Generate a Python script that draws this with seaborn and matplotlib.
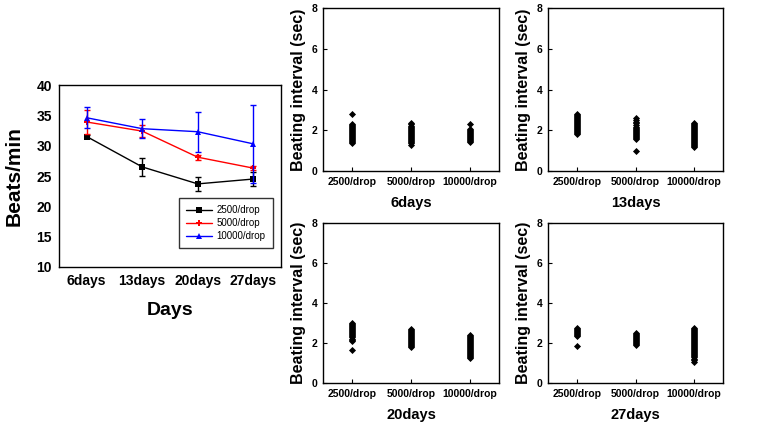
import numpy as np
import pandas as pd
import matplotlib
matplotlib.use("Agg")
import matplotlib.pyplot as plt
import seaborn as sns

# ---- left panel: beats per minute over time ----
days = ["6days", "13days", "20days", "27days"]
groups = ["2500/drop", "5000/drop", "10000/drop"]
colors = ["black", "red", "blue"]
marks = ["s", "P", "^"]

bpm_2500 = [31.5, 26.5, 23.7, 24.5]
err_2500 = [0.2, 1.5, 1.1, 1.1]
bpm_5000 = [33.9, 32.4, 28.1, 26.3]
err_5000 = [1.9, 1.0, 0.4, 0.3]
bpm_10000 = [34.6, 32.8, 32.3, 30.3]
err_10000 = [1.7, 1.6, 3.3, 6.4]

# ---- right panels: beating interval (sec) per density ----
density = ["2500/drop", "5000/drop", "10000/drop"]

d6_2500 = [2.78, 2.30, 2.25, 2.20, 2.15, 2.10, 2.05, 2.00, 1.95, 1.90, 1.85,
           1.80, 1.75, 1.70, 1.65, 1.60, 1.55, 1.50, 1.45, 1.40, 1.37]
d6_5000 = [2.37, 2.30, 2.23, 2.16, 2.10, 2.05, 2.00, 1.95, 1.90, 1.85, 1.80,
           1.75, 1.70, 1.65, 1.60, 1.55, 1.50, 1.45, 1.40, 1.35, 1.30]
d6_10000 = [2.30, 2.08, 2.03, 1.98, 1.93, 1.88, 1.83, 1.78, 1.73, 1.68,
            1.63, 1.58, 1.53, 1.48, 1.42]

d13_2500 = [2.80, 2.75, 2.70, 2.65, 2.60, 2.55, 2.50, 2.45, 2.40, 2.35, 2.30,
            2.25, 2.20, 2.15, 2.10, 2.05, 2.00, 1.95, 1.90, 1.85, 1.80]
d13_5000 = [2.58, 2.50, 2.42, 2.34, 2.26, 2.18, 2.10, 2.05, 2.00, 1.95, 1.90,
            1.85, 1.80, 1.75, 1.70, 1.65, 1.60, 1.55, 1.00]
d13_10000 = [2.37, 2.32, 2.27, 2.22, 2.17, 2.12, 2.07, 2.02, 1.97, 1.92,
             1.87, 1.82, 1.77, 1.72, 1.67, 1.62, 1.57, 1.52, 1.47, 1.42,
             1.37, 1.32, 1.27, 1.22, 1.17]

d20_2500 = [2.98, 2.93, 2.88, 2.83, 2.78, 2.73, 2.68, 2.63, 2.58, 2.53, 2.48,
            2.43, 2.38, 2.33, 2.28, 2.22, 2.15, 2.08, 1.63]
d20_5000 = [2.71, 2.66, 2.61, 2.56, 2.51, 2.46, 2.41, 2.36, 2.31, 2.26, 2.21,
            2.16, 2.11, 2.06, 2.01, 1.96, 1.91, 1.86, 1.80]
d20_10000 = [2.41, 2.36, 2.31, 2.26, 2.21, 2.16, 2.11, 2.06, 2.01, 1.96,
             1.91, 1.86, 1.81, 1.76, 1.71, 1.66, 1.61, 1.56, 1.51, 1.46,
             1.41, 1.36, 1.31, 1.24]

d27_2500 = [2.77, 2.70, 2.63, 2.58, 2.53, 2.48, 2.43, 2.38, 2.33, 1.85]
d27_5000 = [2.52, 2.47, 2.42, 2.37, 2.32, 2.27, 2.22, 2.17, 2.12, 2.07,
            2.02, 1.96, 1.90]
d27_10000 = [2.77, 2.72, 2.67, 2.62, 2.57, 2.52, 2.47, 2.42, 2.37, 2.32,
             2.27, 2.22, 2.17, 2.12, 2.07, 2.02, 1.97, 1.92, 1.87, 1.82,
             1.77, 1.72, 1.67, 1.62, 1.57, 1.52, 1.47, 1.42, 1.37, 1.30,
             1.22, 1.15, 1.04]

panels = [("6days", [d6_2500, d6_5000, d6_10000]),
          ("13days", [d13_2500, d13_5000, d13_10000]),
          ("20days", [d20_2500, d20_5000, d20_10000]),
          ("27days", [d27_2500, d27_5000, d27_10000])]

sns.set_style("ticks")
plt.rcParams["font.family"] = ["Liberation Sans", "DejaVu Sans"]
plt.rcParams["font.weight"] = "bold"
plt.rcParams["axes.linewidth"] = 1.0
for k in ["text.color", "axes.labelcolor", "xtick.color", "ytick.color",
          "axes.edgecolor"]:
    plt.rcParams[k] = "black"

fig = plt.figure(figsize=(7.59, 4.24), dpi=100)

# left panel
ax = fig.add_axes([0.0777, 0.3703, 0.2925, 0.4292])
pos = np.arange(len(days))
means = [bpm_2500, bpm_5000, bpm_10000]
errs = [err_2500, err_5000, err_10000]
rows = []
for g, m in zip(groups, means):
    for p, v in zip(pos, m):
        rows.append({"pos": p, "bpm": v, "group": g})
df = pd.DataFrame(rows)
sns.lineplot(data=df, x="pos", y="bpm", hue="group", style="group",
             palette=colors, markers=marks, dashes=False, sort=False,
             linewidth=1.0, markersize=5, markeredgewidth=0, ax=ax)
for g, m, e, c in zip(groups, means, errs, colors):
    ax.errorbar(pos, m, yerr=e, fmt="none", ecolor=c, elinewidth=1.0,
                capsize=2.5, capthick=1.0)
ax.set_xlim(-0.5, 3.5)
ax.set_ylim(10, 40)
ax.set_yticks([10, 15, 20, 25, 30, 35, 40])
ax.set_xticks(pos)
ax.set_xticklabels(days)
ax.tick_params(direction="in", length=0, labelsize=10, pad=5)
for t in ax.get_xticklabels() + ax.get_yticklabels():
    t.set_fontweight("bold")
ax.set_xlabel("Days", fontsize=14, fontweight="bold", labelpad=10)
ax.set_ylabel("Beats/min", fontsize=15, fontweight="bold", labelpad=9)
leg = ax.legend(loc="lower right", bbox_to_anchor=(0.985, 0.075),
                fontsize=7, frameon=True, fancybox=False, edgecolor="black",
                handlelength=2.6, borderpad=0.75, labelspacing=0.3,
                handletextpad=0.5)
leg.get_frame().set_linewidth(1.0)
for t in leg.get_texts():
    t.set_fontweight("normal")

# right panels
rects = [[0.4256, 0.5967, 0.2319, 0.3844],
         [0.7220, 0.5967, 0.2306, 0.3844],
         [0.4256, 0.0967, 0.2319, 0.3774],
         [0.7220, 0.0967, 0.2306, 0.3774]]
for rect, (title, vals) in zip(rects, panels):
    a = fig.add_axes(rect)
    recs = []
    for d, v in zip(density, vals):
        for x in v:
            recs.append({"density": d, "interval": x})
    pdf = pd.DataFrame(recs)
    sns.stripplot(data=pdf, x="density", y="interval", order=density,
                  jitter=False, color="black", marker="D", size=3.6,
                  linewidth=0, ax=a)
    a.set_xlim(-0.5, 2.5)
    a.set_ylim(0, 8)
    a.set_yticks([0, 2, 4, 6, 8])
    a.tick_params(direction="in", length=3, labelsize=7.5, pad=4)
    for t in a.get_xticklabels() + a.get_yticklabels():
        t.set_fontweight("bold")
    a.set_xlabel(title, fontsize=10.5, fontweight="bold", labelpad=7)
    a.set_ylabel("Beating interval (sec)", fontsize=11.5, fontweight="bold",
                 labelpad=4)
    for s in a.spines.values():
        s.set_visible(True)

fig.savefig("out.png", dpi=100)
